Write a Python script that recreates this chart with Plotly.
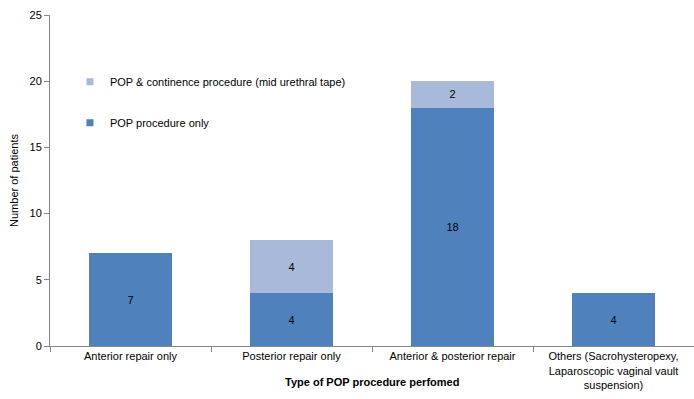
import plotly.graph_objects as go

categories = ["Anterior repair only", "Posterior repair only", "Anterior & posterior repair",
              "Others (Sacrohysteropexy,<br>Laparoscopic vaginal vault<br>suspension)"]
pop_only = [7, 4, 18, 4]
pop_continence = [0, 4, 2, 0]
y_ticks = [0, 5, 10, 15, 20, 25]
series_names = ["POP procedure only", "POP & continence procedure (mid urethral tape)"]

dark = "#4F81BD"
light = "#A9B9DA"

def labels(vals):
    return [str(v) if v else "" for v in vals]

fig = go.Figure()
for vals, name, col in [(pop_only, series_names[0], dark), (pop_continence, series_names[1], light)]:
    fig.add_trace(go.Bar(
        x=categories, y=vals, name=name,
        marker=dict(color=col, line=dict(width=0)),
        text=labels(vals), textposition="inside", insidetextanchor="middle",
        textfont=dict(color="black", size=11), width=0.51,
        showlegend=False, hoverinfo="skip",
    ))

# legend entries with small square keys
for name, col, rank, grp in [(series_names[1], light, 1, "b"), (series_names[0], dark, 2, "a")]:
    fig.add_trace(go.Scatter(
        x=[None], y=[None], mode="markers", name=name,
        marker=dict(symbol="square", size=7, color=col),
        legendrank=rank, legendgroup=grp, hoverinfo="skip",
    ))

fig.update_layout(
    barmode="stack",
    width=694, height=399,
    margin=dict(l=50, r=0, t=15, b=53),
    plot_bgcolor="white", paper_bgcolor="white",
    font=dict(family="Liberation Sans, Arial, sans-serif", size=11, color="black"),
    uniformtext=dict(minsize=11, mode="show"),
    legend=dict(
        x=0.031, y=0.842, xanchor="left", yanchor="top",
        tracegroupgap=22,
        bgcolor="rgba(0,0,0,0)", font=dict(size=11),
        itemwidth=30,
    ),
    xaxis=dict(
        showline=True, linecolor="#868686", linewidth=1,
        ticks="outside", tickson="boundaries", ticklen=5, tickcolor="#868686",
        showgrid=False, automargin=False,
        tickfont=dict(size=11),
    ),
    yaxis=dict(
        range=[0, 25], tickvals=y_ticks,
        showline=True, linecolor="#868686", linewidth=1,
        ticks="outside", ticklen=5, tickcolor="#868686",
        showgrid=False, zeroline=False, automargin=False,
        title=dict(text="Number of patients", standoff=8, font=dict(size=11)),
        tickfont=dict(size=11),
    ),
    annotations=[dict(
        text="<b>Type of POP procedure perfomed</b>", xref="paper", yref="paper",
        x=0.5, y=-0.109, xanchor="center", yanchor="middle", showarrow=False,
        font=dict(size=11),
    )],
)

fig.write_html("out.html")
